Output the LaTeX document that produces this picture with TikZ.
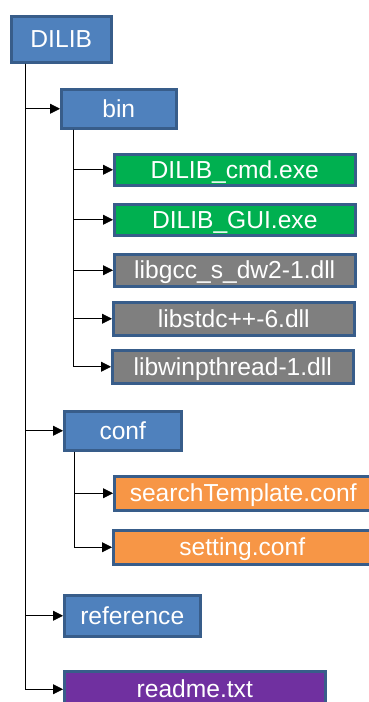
\documentclass[tikz,border=0pt]{standalone}
\usepackage{fontspec}
\setmainfont{Liberation Sans}
\definecolor{dirblue}{RGB}{79,129,189}
\definecolor{edgeblue}{RGB}{56,93,138}
\definecolor{exegreen}{RGB}{0,176,80}
\definecolor{dllgray}{RGB}{127,127,127}
\definecolor{conforange}{RGB}{247,150,70}
\definecolor{txtpurple}{RGB}{112,48,160}
\usetikzlibrary{arrows.meta}

\begin{document}
\begin{tikzpicture}[x=1pt,y=-1pt,
    box/.style={draw=edgeblue,line width=2.5pt,text=white,
      font=\fontsize{24.6}{28}\selectfont,inner sep=0pt,
      text height=17pt,text depth=0pt,anchor=north west},
    dirbox/.style={box,fill=dirblue},
    exebox/.style={box,fill=exegreen,minimum width=241,minimum height=31},
    dllbox/.style={box,fill=dllgray,minimum width=241,minimum height=32},
    confbox/.style={box,fill=conforange,minimum width=258,minimum height=34},
    txtbox/.style={box,fill=txtpurple},
    arr/.style={-{Triangle[length=10pt,width=10pt]},line width=0.8pt}]
  \useasboundingbox (0,0) rectangle (369,702);
  \clip (0,0) rectangle (369,702);

  % folder tree
  \node[dirbox,minimum width=100,minimum height=46] (dilib) at (10,15) {DILIB};
  \node[dirbox,minimum width=115,minimum height=39] (bin) at (60,88) {bin};
  \node[exebox] (cmd) at (113,153) {DILIB\_cmd.exe};
  \node[exebox] (gui) at (113,203) {DILIB\_GUI.exe};
  \node[dllbox] (gcc) at (113,253) {libgcc\_s\_dw2-1.dll};
  \node[dllbox,minimum height=33] (stdcpp) at (112,301) {libstdc++-6.dll};
  \node[dllbox,minimum height=33] (winpth) at (111,349) {libwinpthread-1.dll};
  \node[dirbox,minimum width=117,minimum height=39] (conf) at (63,410) {conf};
  \node[confbox] (search) at (113,475) {searchTemplate.conf};
  \node[confbox] (setting) at (112,529) {setting.conf};
  \node[dirbox,minimum width=136,minimum height=41] (ref) at (63,594) {reference};
  \node[txtbox,minimum width=261,minimum height=36] (readme) at (63,670) {readme.txt};

  % branch lines
  \coordinate (root) at ([xshift=15pt]dilib.south west);
  \coordinate (binroot) at ([xshift=13pt]bin.south west);
  \coordinate (confroot) at ([xshift=11pt]conf.south west);
  \foreach \n in {bin,conf,ref,readme}
    \draw[arr] (root) |- (\n.west);
  \foreach \n in {cmd,gui,gcc,stdcpp,winpth}
    \draw[arr] (binroot) |- (\n.west);
  \foreach \n in {search,setting}
    \draw[arr] (confroot) |- (\n.west);
\end{tikzpicture}
\end{document}
